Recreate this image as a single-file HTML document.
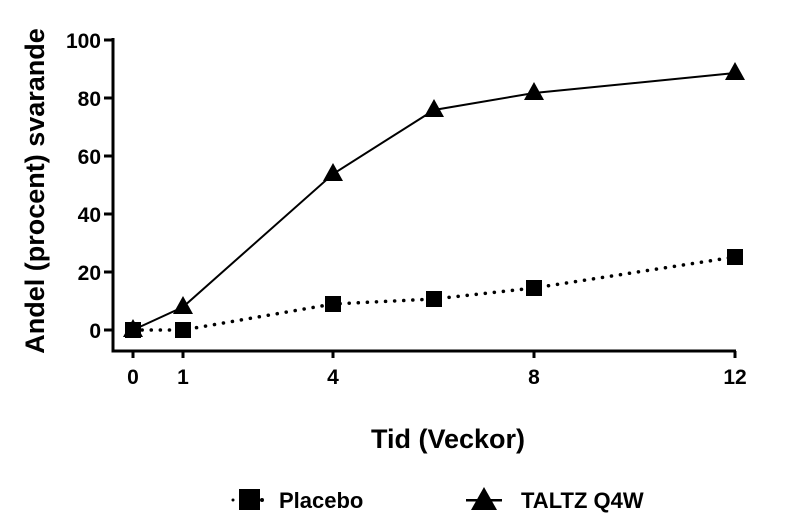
<!DOCTYPE html>
<html><head><meta charset="utf-8"><style>body{margin:0;background:#fff}svg{display:block}text{font-family:"Liberation Sans",Arial,sans-serif;font-weight:bold;fill:#000}</style></head><body>
<svg width="806" height="528" viewBox="0 0 806 528">
<g stroke="#000" stroke-width="3" fill="none">
<path d="M113 38V351H736"/>
<path d="M104 40H113M104 98H113M104 156H113M104 214H113M104 272H113M104 330H113"/>
<path d="M133 351V358M183 351V358M333 351V358M534 351V358M735 351V358"/>
</g>
<g font-size="21" text-anchor="end">
<text x="101" y="48">100</text><text x="101" y="106">80</text><text x="101" y="164">60</text><text x="101" y="222">40</text><text x="101" y="280">20</text><text x="101" y="338">0</text>
</g>
<g font-size="21" text-anchor="middle">
<text x="133" y="384">0</text><text x="183" y="384">1</text><text x="333" y="384">4</text><text x="534" y="384">8</text><text x="735" y="384">12</text>
</g>
<text x="448" y="448" font-size="27" text-anchor="middle">Tid (Veckor)</text>
<text transform="translate(44,191) rotate(-90)" font-size="27" text-anchor="middle">Andel (procent) svarande</text>
<polyline points="133,330 183,330 333,304 434,299 534,288 735,257" fill="none" stroke="#000" stroke-width="3.5" stroke-dasharray="0.1,9" stroke-linecap="round"/>
<polyline points="133,330 183,307 333,174 434,110 534,93 735,73" fill="none" stroke="#000" stroke-width="2"/>
<g fill="#000">
<rect x="125" y="322" width="16" height="16"/><rect x="175" y="322" width="16" height="16"/><rect x="325" y="296" width="16" height="16"/><rect x="426" y="291" width="16" height="16"/><rect x="526" y="280" width="16" height="16"/><rect x="727" y="249" width="16" height="16"/>
<path d="M133 319l10 18h-20z M183 296l10 18h-20z M333 163l10 18h-20z M434 99l10 18h-20z M534 82l10 18h-20z M735 62l10 18h-20z"/>
<rect x="239" y="489" width="21" height="21"/>
<circle cx="233" cy="500" r="1.5"/><circle cx="262" cy="500" r="2"/>
<path d="M484 487l13 23h-26z"/>
<rect x="466" y="499" width="36" height="2.5"/>
</g>
<text x="279" y="508" font-size="22">Placebo</text>
<text x="521" y="508" font-size="22">TALTZ Q4W</text>
</svg>
</body></html>
